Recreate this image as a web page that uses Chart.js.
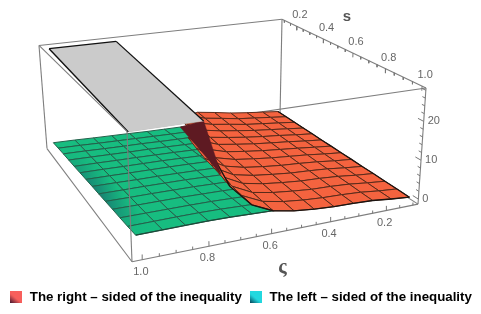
<!DOCTYPE html>
<html>
<head>
<meta charset="utf-8">
<style>
html, body { margin: 0; padding: 0; background: #fff; }
#wrap { width: 481px; height: 314px; }
</style>
<script src="https://cdn.jsdelivr.net/npm/chart.js@4/dist/chart.umd.min.js"></script>
</head>
<body>
<div id="wrap"><canvas id="plot" width="481" height="314"></canvas></div>
<script>
// mesh lines of the two surfaces
const sValues = [0.1, 0.169, 0.238, 0.308, 0.377, 0.446, 0.515, 0.585, 0.654, 0.723, 0.792, 0.862, 0.931, 1.0];
const rightC = [0.1, 0.169, 0.238, 0.308, 0.377, 0.446, 0.515, 0.585, 0.654, 0.723, 0.792];
const leftC = [0.446, 0.515, 0.585, 0.654, 0.723, 0.792, 0.862, 0.931, 1.01];

// right side of the inequality, one row per s, rows stop where the wall hides the rest
const rightZ = [
  [0.5, 1.0, 1.5, 2.1, 2.95, 3.7],
  [0.5, 1.0, 1.5, 2.0, 2.8, 3.55, 5.2],
  [0.45, 0.95, 1.45, 1.95, 2.7, 3.4, 4.6],
  [0.4, 0.9, 1.4, 1.9, 2.55, 3.25, 4.2, 7.0],
  [0.4, 0.85, 1.4, 1.85, 2.4, 3.1, 3.9, 6.2],
  [0.35, 0.8, 1.35, 1.8, 2.3, 2.95, 3.7, 5.6],
  [0.35, 0.8, 1.3, 1.75, 2.2, 2.8, 3.5, 5.0, 9.0],
  [0.3, 0.75, 1.3, 1.7, 2.1, 2.65, 3.3, 4.6, 8.0],
  [0.3, 0.7, 1.25, 1.65, 1.95, 2.45, 3.1, 4.3, 7.2],
  [0.25, 0.7, 1.25, 1.6, 1.85, 2.35, 2.95, 4.0, 6.8],
  [0.25, 0.65, 1.2, 1.55, 1.75, 2.2, 2.8, 3.8, 6.4, 16],
  [0.2, 0.65, 1.2, 1.5, 1.65, 2.1, 2.65, 3.6, 6.1, 13.5],
  [0.2, 0.6, 1.15, 1.45, 1.6, 1.95, 2.5, 3.5, 5.9, 12, 24],
  [0.15, 0.6, 1.15, 1.4, 1.5, 1.85, 2.4, 3.4, 5.8, 11.2, 22]
];

// left side of the inequality
const leftZ = [
  [0, 0, 0.05, 0.1, 0.25, 0.35, 0.45, 0.6, 0.7],
  [0.2, 0.25, 0.3, 0.4, 0.5, 0.6, 0.7, 0.85, 0.95],
  [0.45, 0.5, 0.55, 0.65, 0.8, 0.85, 0.95, 1.1, 1.2],
  [0.65, 0.7, 0.8, 0.95, 1.05, 1.1, 1.2, 1.3, 1.4],
  [0.85, 0.95, 1.05, 1.2, 1.3, 1.4, 1.45, 1.55, 1.6],
  [1.05, 1.2, 1.3, 1.45, 1.6, 1.65, 1.7, 1.8, 1.85],
  [1.3, 1.45, 1.6, 1.75, 1.85, 1.9, 1.95, 2.05, 2.1],
  [1.5, 1.65, 1.85, 2.0, 2.1, 2.2, 2.2, 2.3, 2.35],
  [1.7, 1.9, 2.1, 2.25, 2.4, 2.45, 2.5, 2.5, 2.55],
  [1.95, 2.15, 2.35, 2.5, 2.65, 2.7, 2.75, 2.75, 2.8],
  [2.15, 2.4, 2.6, 2.8, 2.9, 3.0, 3.0, 3.0, 3.05],
  [2.35, 2.6, 2.85, 3.05, 3.2, 3.25, 3.25, 3.25, 3.25],
  [2.6, 2.85, 3.15, 3.3, 3.5, 3.6, 3.6, 3.55, 3.5],
  [2.8, 3.1, 3.4, 3.6, 3.8, 3.9, 3.9, 3.85, 3.8]
];

// how dark the last green column gets on each s row
const leftShade = [0, 0, 0.05, 0.2, 0.3, 0.4, 0.5, 0.55, 0.55, 0.5, 0.4, 0.2, 0.05, 0];

// clipped top of the right surface and the underside of its wall, [c, s, z]
const capEdge = [[1.0, 0.1, 27.8], [0.755, 0.1, 27.8], [0.8, 1.0, 27.8], [1.02, 1.0, 27.8]];
const wallEdge = [[0.52, 0.1, 0], [0.8, 1.0, 27.8], [0.6, 0.66, 2.5]];

const cMajor = [1.0, 0.8, 0.6, 0.4, 0.2];
const cMinor = [0.95, 0.9, 0.85, 0.75, 0.7, 0.65, 0.55, 0.5, 0.45, 0.35, 0.3, 0.25, 0.15, 0.1];
const sMajor = [0.2, 0.4, 0.6, 0.8, 1.0];
const sMinor = [0.1, 0.15, 0.25, 0.3, 0.35, 0.45, 0.5, 0.55, 0.65, 0.7, 0.75, 0.85, 0.9, 0.95];
const zMajor = [0, 10, 20];
const zMinor = [2, 4, 6, 8, 12, 14, 16, 18, 22, 24, 26, 28];
const legendNames = ["The right \u2013 sided of the inequality", "The left \u2013 sided of the inequality"];

// the box, axis ranges plus where its corners land in the view
const cMin = 0.08, cMax = 1.03, sMin = 0.08, sMax = 1.02, zMin = -1.3, zMax = 28.6;
const floorWarp = makeWarp([[132, 259], [418, 202], [280, 114], [47, 147]]);
const roofWarp = makeWarp([[127, 130], [426, 87], [282, 19], [39, 45]]);

const plotBottom = 280.7;
const darkGreen = "#23604a", darkRed = "#5a2a1a";

function makeWarp(q) {
  const sx = q[0][0] - q[1][0] + q[2][0] - q[3][0], sy = q[0][1] - q[1][1] + q[2][1] - q[3][1];
  const dx1 = q[1][0] - q[2][0], dx2 = q[3][0] - q[2][0], dy1 = q[1][1] - q[2][1], dy2 = q[3][1] - q[2][1];
  const det = dx1 * dy2 - dx2 * dy1;
  const g = (sx * dy2 - dx2 * sy) / det, h = (dx1 * sy - sx * dy1) / det;
  const a = q[1][0] - q[0][0] + g * q[1][0], b = q[3][0] - q[0][0] + h * q[3][0];
  const d = q[1][1] - q[0][1] + g * q[1][1], e = q[3][1] - q[0][1] + h * q[3][1];
  return (u, v) => {
    const w = g * u + h * v + 1;
    return [(a * u + b * v + q[0][0]) / w, (d * u + e * v + q[0][1]) / w];
  };
}

function project(c, s, z) {
  const u = (cMax - c) / (cMax - cMin), v = (sMax - s) / (sMax - sMin);
  const lo = floorWarp(u, v), hi = roofWarp(u, v), k = (z - zMin) / (zMax - zMin);
  return { x: lo[0] + k * (hi[0] - lo[0]), y: lo[1] + k * (hi[1] - lo[1]) };
}

const canvas = document.getElementById("plot");
const ctx = canvas.getContext("2d");
const shapes = [];

function addLine(points, color, width) {
  shapes.push({ data: points, showLine: true, pointRadius: 0, fill: false, borderColor: color, borderWidth: width, tension: 0 });
}
function addPatch(points, fillColor, edgeColor, width) {
  shapes.push({
    data: points.concat([points[0]]), showLine: true, pointRadius: 0, fill: "shape",
    backgroundColor: fillColor, borderColor: edgeColor, borderWidth: width, tension: 0
  });
}

const boxColor = "#7e7e7e";
function boxLine(a, b) { addLine([project(a[0], a[1], a[2]), project(b[0], b[1], b[2])], boxColor, 1.1); }

// back of the box
boxLine([cMax, sMin, zMax], [cMin, sMin, zMax]);
boxLine([cMin, sMin, zMax], [cMin, sMax, zMax]);
boxLine([cMin, sMax, zMax], [cMin, sMax, zMin]);
boxLine([cMin, sMax, zMin], [cMax, sMax, zMin]);
boxLine([cMax, sMax, zMin], [cMax, sMin, zMin]);
boxLine([cMax, sMin, zMin], [cMax, sMin, zMax]);
boxLine([cMin, sMin, zMax], [cMin, sMin, zMin]);
boxLine([cMin, sMin, zMin], [cMin, sMax, zMin]);
boxLine([cMax, sMax, zMax], [cMin, sMax, zMax]);

// green surface
const leftFill = "#17bd80";
const lastRow = sValues.length - 1;
for (let i = 0; i < lastRow; i++) {
  for (let j = 0; j < leftC.length - 1; j++) {
    const a = project(leftC[j], sValues[i], leftZ[i][j]);
    const b = project(leftC[j + 1], sValues[i], leftZ[i][j + 1]);
    const c = project(leftC[j + 1], sValues[i + 1], leftZ[i + 1][j + 1]);
    const d = project(leftC[j], sValues[i + 1], leftZ[i + 1][j]);
    let fillStyle = leftFill;
    if (j === leftC.length - 2 && leftShade[i] > 0) {
      const g = ctx.createLinearGradient(a.x, a.y, b.x, b.y);
      g.addColorStop(0, leftFill);
      g.addColorStop(1, "rgb(23," + Math.round(189 - 110 * leftShade[i]) + "," + Math.round(128 - 25 * leftShade[i]) + ")");
      fillStyle = g;
    }
    addPatch([a, b, c, d], fillStyle, darkGreen, 1);
  }
}
// green front edge
addLine(leftC.map((c, j) => project(c, 1.0, leftZ[lastRow][j])), "#1d4a3a", 1.2);

// orange surface
const rightFill = "#f4633f";
for (let i = 0; i < lastRow; i++) {
  const n = Math.min(rightZ[i].length, rightZ[i + 1].length);
  for (let j = 0; j < n - 1; j++) {
    addPatch([
      project(rightC[j], sValues[i], rightZ[i][j]),
      project(rightC[j + 1], sValues[i], rightZ[i][j + 1]),
      project(rightC[j + 1], sValues[i + 1], rightZ[i + 1][j + 1]),
      project(rightC[j], sValues[i + 1], rightZ[i + 1][j])
    ], rightFill, darkRed, 1);
  }
  // next row is longer, close the step so no hole shows
  if (rightZ[i + 1].length > rightZ[i].length) {
    const j = rightZ[i].length - 1;
    addPatch([
      project(rightC[j], sValues[i], rightZ[i][j]),
      project(rightC[j], sValues[i + 1], rightZ[i + 1][j]),
      project(rightC[j + 1], sValues[i + 1], rightZ[i + 1][j + 1])
    ], rightFill, darkRed, 1);
  }
}
// orange outer edges
addLine(sValues.map((s, i) => project(rightC[0], s, rightZ[i][0])), "#1c1410", 1.3);
addLine(rightC.map((c, j) => project(c, 1.0, rightZ[lastRow][j])), "#1c1410", 1.3);

// wall underside and clipped cap
addPatch(wallEdge.map(p => project(p[0], p[1], p[2])), "#5e1a22", "#5e1a22", 0.5);
addPatch(capEdge.map(p => project(p[0], p[1], p[2])), "#cbcbcb", "#cbcbcb", 0.5);
addLine([project(capEdge[0][0], capEdge[0][1], capEdge[0][2]), project(capEdge[1][0], capEdge[1][1], capEdge[1][2])], "#111", 1.3);
addLine([project(capEdge[1][0], capEdge[1][1], capEdge[1][2]), project(capEdge[2][0], capEdge[2][1], capEdge[2][2])], "#111", 1.3);
addLine([project(capEdge[0][0], capEdge[0][1], capEdge[0][2]), project(capEdge[3][0], capEdge[3][1], capEdge[3][2])], "#111", 1.4);

// front of the box stays on top
boxLine([cMax, sMin, zMax], [cMax, sMax, zMax]);
boxLine([cMax, sMax, zMax], [cMax, sMax, zMin]);

// ticks
const tickColor = "#777";
cMajor.forEach(c => addLine([project(c, sMax, zMin), project(c, sMax, zMin + 1.2)], tickColor, 1));
cMinor.forEach(c => addLine([project(c, sMax, zMin), project(c, sMax, zMin + 0.7)], tickColor, 1));
sMajor.forEach(s => addLine([project(cMin, s, zMax), project(cMin, s, zMax - 1.2)], tickColor, 1));
sMinor.forEach(s => addLine([project(cMin, s, zMax), project(cMin, s, zMax - 0.7)], tickColor, 1));
zMajor.forEach(z => addLine([project(cMin, sMax, z), project(cMin, sMax - 0.03, z)], tickColor, 1));
zMinor.forEach(z => addLine([project(cMin, sMax, z), project(cMin, sMax - 0.015, z)], tickColor, 1));

// axis text
const axisTexts = [];
cMajor.forEach(c => axisTexts.push({ at: project(c, sMax, zMin), dx: -1.5, dy: 12, text: c.toFixed(1), align: "center" }));
sMajor.forEach(s => axisTexts.push({ at: project(cMin, s, zMax), dx: 3, dy: -11, text: s.toFixed(1), align: "center" }));
zMajor.forEach(z => axisTexts.push({ at: project(cMin, sMax, z), dx: 4, dy: 0, text: String(z), align: "left" }));
axisTexts.push({ at: project(cMin, 0.5, zMax), dx: 9, dy: -29, text: "s", align: "center", font: "bold 15px 'Liberation Sans'", color: "#555" });
axisTexts.push({ at: project(0.5, sMax, zMin), dx: -19, dy: 40, text: "\u03c2", align: "center", font: "bold 20px 'Liberation Serif'", color: "#555" });

const axisTextPlugin = {
  id: "axisText",
  afterDraw(chart) {
    const c = chart.ctx;
    c.save();
    c.textBaseline = "middle";
    axisTexts.forEach(t => {
      c.font = t.font || "11px 'Liberation Sans'";
      c.fillStyle = t.color || "#666";
      c.textAlign = t.align;
      c.fillText(t.text, chart.scales.x.getPixelForValue(t.at.x) + t.dx, chart.scales.y.getPixelForValue(t.at.y) + t.dy);
    });
    c.restore();
  }
};

function swatch(light, dark) {
  const sw = document.createElement("canvas");
  sw.width = 12;
  sw.height = 12;
  const c = sw.getContext("2d");
  const g = c.createLinearGradient(11, 0, 1, 12);
  g.addColorStop(0, light);
  g.addColorStop(0.55, light);
  g.addColorStop(1, dark);
  c.fillStyle = g;
  c.fillRect(0, 0, 12, 12);
  return sw;
}
const swatches = [swatch("#f85f5c", "#4a1a30"), swatch("#22d8df", "#07455a")];

// datasets paint last-to-first, so the painter's order goes in reversed
new Chart(canvas, {
  type: "scatter",
  data: { datasets: shapes.slice().reverse() },
  options: {
    responsive: false,
    animation: false,
    parsing: false,
    normalized: true,
    layout: { padding: 0 },
    scales: {
      x: { type: "linear", display: false, min: 0, max: 481 },
      y: { type: "linear", display: false, min: 0, max: plotBottom, reverse: true }
    },
    plugins: {
      tooltip: { enabled: false },
      legend: {
        position: "bottom",
        onClick: null,
        labels: {
          usePointStyle: true,
          pointStyleWidth: 14,
          padding: 7,
          color: "#17172b",
          font: { family: "'Liberation Sans'", size: 13.3, weight: "bold" },
          generateLabels: () => legendNames.map((name, i) => ({
            text: name, pointStyle: swatches[i], lineWidth: 0, hidden: false, datasetIndex: i
          }))
        }
      }
    }
  },
  plugins: [axisTextPlugin]
});
</script>
</body>
</html>
